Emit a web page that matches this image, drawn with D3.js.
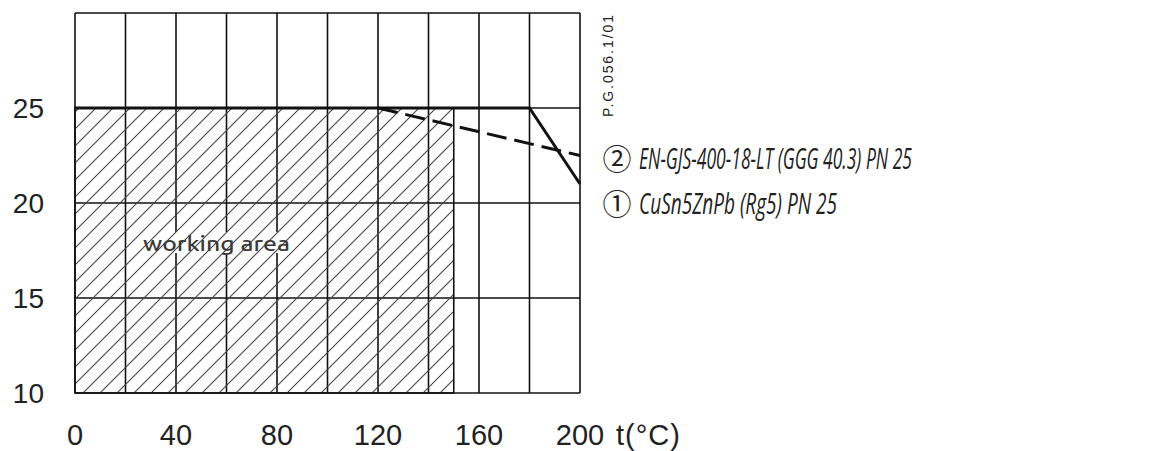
<!DOCTYPE html>
<html>
<head>
<meta charset="utf-8">
<script src="https://cdn.jsdelivr.net/npm/d3@7"></script>
<style>
  body { margin: 0; background: #fff; }
</style>
</head>
<body>
<script>
// chart data
var xTicks = [0, 40, 80, 120, 160, 200];
var xGrid = [0, 20, 40, 60, 80, 100, 120, 140, 160, 180, 200];
var yTicks = [10, 15, 20, 25];
var yGrid = [10, 15, 20, 25, 30];
var curve1 = [[0, 25], [180, 25], [200, 21]];      // CuSn5ZnPb
var curve2 = [[120, 25], [200, 22.5]];            // EN-GJS
var workTMax = 150, workPMax = 25;
var legendMarks = ["\u2461", "\u2460"];
var legendLabels = ["EN-GJS-400-18-LT (GGG 40.3) PN 25", "CuSn5ZnPb (Rg5) PN 25"];

var width = 1166, height = 451;

var svg = d3.select("body").append("svg")
    .attr("width", width)
    .attr("height", height);

var x = d3.scaleLinear().domain([0, 200]).range([75, 580]);
var y = d3.scaleLinear().domain([10, 30]).range([393, 13]);

// hatch pattern
var pat = svg.append("defs").append("pattern")
    .attr("id", "hatch")
    .attr("patternUnits", "userSpaceOnUse")
    .attr("width", 17).attr("height", 17);
pat.append("path")
    .attr("d", "M-2,2 L2,-2 M0,17 L17,0 M15,19 L19,15")
    .attr("stroke", "#444").attr("stroke-width", 1.1);

// grid
svg.append("g").selectAll("line").data(xGrid).enter().append("line")
    .attr("x1", d => x(d)).attr("x2", d => x(d))
    .attr("y1", y(10)).attr("y2", y(30))
    .attr("stroke", "#111").attr("stroke-width", 1.6);
svg.append("g").selectAll("line").data(yGrid).enter().append("line")
    .attr("x1", x(0)).attr("x2", x(200))
    .attr("y1", d => y(d)).attr("y2", d => y(d))
    .attr("stroke", "#111").attr("stroke-width", 1.6);

// label gap in grid lines
svg.append("rect")
    .attr("x", 142).attr("y", 232).attr("width", 150).attr("height", 21)
    .attr("fill", "#fff");

// working area
svg.append("rect")
    .attr("x", x(0)).attr("y", y(workPMax))
    .attr("width", x(workTMax) - x(0)).attr("height", y(10) - y(workPMax))
    .attr("fill", "url(#hatch)")
    .attr("stroke", "#111").attr("stroke-width", 1.6);

svg.append("text")
    .attr("x", 143).attr("y", 251)
    .attr("font-family", "Ubuntu, 'Noto Sans', sans-serif")
    .attr("font-size", 20)
    .attr("font-weight", 500)
    .attr("fill", "#3a3a3a")
    .attr("textLength", 147).attr("lengthAdjust", "spacingAndGlyphs")
    .text("working area");

// curves
var line = d3.line().x(d => x(d[0])).y(d => y(d[1]));
svg.append("path").datum(curve1)
    .attr("d", line).attr("fill", "none")
    .attr("stroke", "#111").attr("stroke-width", 3);
svg.append("path").datum(curve2)
    .attr("d", line).attr("fill", "none")
    .attr("stroke", "#111").attr("stroke-width", 3)
    .attr("stroke-dasharray", "20,8");

// axes labels
var tickFont = "'Liberation Sans', Arial, sans-serif";
svg.append("g").selectAll("text").data(yTicks).enter().append("text")
    .attr("x", 44).attr("y", d => y(d) + 10)
    .attr("text-anchor", "end")
    .attr("font-family", tickFont).attr("font-size", 28)
    .attr("fill", "#222")
    .text(d => d);
svg.append("g").selectAll("text").data(xTicks).enter().append("text")
    .attr("x", d => x(d)).attr("y", 445)
    .attr("text-anchor", "middle")
    .attr("font-family", tickFont).attr("font-size", 29)
    .attr("fill", "#222")
    .text(d => d);
svg.append("text")
    .attr("x", 616).attr("y", 445)
    .attr("font-family", tickFont).attr("font-size", 29)
    .attr("letter-spacing", 1)
    .attr("fill", "#222")
    .text("t(\u00b0C)");

// drawing reference
svg.append("text")
    .attr("transform", "translate(613,117) rotate(-90)")
    .attr("font-family", tickFont).attr("font-size", 14)
    .attr("fill", "#222")
    .attr("textLength", 102).attr("lengthAdjust", "spacing")
    .text("P.G.056.1/01");

// legend
var legendY = [169, 214];
svg.append("g").selectAll("text").data(legendMarks).enter().append("text")
    .attr("x", 617).attr("y", (d, i) => legendY[i] + 1)
    .attr("text-anchor", "middle")
    .attr("font-family", "'Noto Sans CJK JP', sans-serif")
    .attr("font-size", 29)
    .attr("fill", "#222")
    .text(d => d);
svg.append("g").selectAll("text").data(legendLabels).enter().append("text")
    .attr("x", 639).attr("y", (d, i) => legendY[i])
    .attr("font-family", "'Open Sans', sans-serif")
    .attr("font-style", "italic")
    .attr("font-size", 29)
    .attr("fill", "#222")
    .attr("textLength", (d, i) => [273, 198][i])
    .attr("lengthAdjust", "spacingAndGlyphs")
    .text(d => d);
</script>
</body>
</html>
